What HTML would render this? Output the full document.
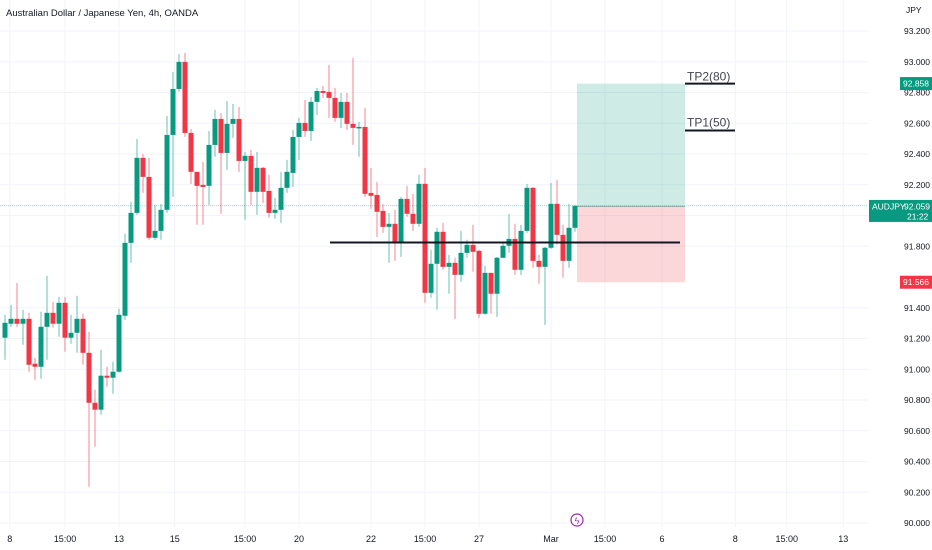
<!DOCTYPE html>
<html><head><meta charset="utf-8">
<style>
body{margin:0;background:#fff;font-family:"Liberation Sans",sans-serif;}
svg{display:block}
text{font-family:"Liberation Sans",sans-serif;}
</style></head>
<body>
<svg id="chart" width="932" height="550" xmlns="http://www.w3.org/2000/svg">
<rect x="0" y="0" width="932" height="550" fill="#ffffff"/>
<g id="grid"></g>
<g id="drawings-under"></g>
<g id="candles"></g>
<g id="drawings"></g>
<g id="axis"></g>
<g id="taxis"></g>
<text x="6" y="16" font-size="9.5" fill="#131722">Australian Dollar / Japanese Yen, 4h, OANDA</text>
</svg>
<script>
const opens=[91.205,91.296,91.328,91.296,91.328,91.036,91.016,91.276,91.367,91.296,91.432,91.205,91.237,91.328,91.107,90.782,90.737,90.958,90.945,90.984,91.348,91.822,92.017,92.375,92.251,91.855,91.900,92.037,92.524,92.823,92.999,92.537,92.284,92.199,92.193,92.459,92.628,92.407,92.596,92.628,92.355,92.388,92.154,92.310,92.160,92.017,92.037,92.180,92.277,92.511,92.602,92.550,92.739,92.810,92.804,92.765,92.635,92.739,92.596,92.570,92.576,92.147,92.134,92.030,91.926,91.946,91.822,92.108,92.011,91.946,92.206,91.497,91.686,91.894,91.666,91.692,91.614,91.757,91.809,91.770,91.361,91.627,91.491,91.725,91.803,91.848,91.647,91.900,92.180,91.705,91.666,91.790,92.076,91.874,91.705,91.920];
const closes=[91.302,91.328,91.296,91.328,91.029,91.016,91.276,91.367,91.296,91.432,91.205,91.237,91.328,91.107,90.782,90.737,90.958,90.945,90.984,91.354,91.822,92.017,92.375,92.251,91.855,91.900,92.037,92.524,92.823,92.999,92.537,92.284,92.193,92.186,92.459,92.628,92.407,92.596,92.628,92.355,92.388,92.154,92.310,92.154,92.017,92.037,92.180,92.284,92.511,92.602,92.550,92.739,92.810,92.797,92.765,92.635,92.739,92.596,92.570,92.576,92.141,92.128,92.024,91.926,91.946,91.822,92.108,92.011,91.946,92.206,91.497,91.686,91.894,91.666,91.692,91.614,91.757,91.809,91.764,91.361,91.627,91.491,91.725,91.803,91.848,91.647,91.900,92.180,91.705,91.666,91.790,92.076,91.874,91.705,91.920,92.063];
const highs=[91.354,91.419,91.562,91.387,91.367,91.075,91.374,91.608,91.439,91.471,91.471,91.354,91.478,91.361,91.244,90.867,91.127,91.016,91.049,91.393,91.881,92.089,92.498,92.400,92.375,92.069,92.076,92.648,92.934,93.050,93.057,92.563,92.284,92.349,92.550,92.687,92.667,92.745,92.726,92.706,92.414,92.427,92.414,92.316,92.264,92.115,92.284,92.362,92.557,92.635,92.752,92.771,92.830,92.843,92.979,92.830,92.797,92.797,93.025,92.609,92.700,92.310,92.219,92.076,92.017,92.037,92.121,92.193,92.141,92.264,92.310,91.777,91.920,91.952,91.744,91.725,91.900,91.842,91.939,91.777,91.673,91.627,91.731,91.822,92.011,91.946,91.939,92.206,92.186,91.744,91.796,92.212,92.232,91.939,92.076,92.069];
const lows=[91.062,91.276,91.276,91.159,90.984,90.932,90.938,91.062,91.270,91.211,91.114,91.166,91.107,91.029,90.236,90.496,90.704,90.886,90.841,90.977,91.322,91.692,92.004,92.147,91.842,91.842,91.842,92.017,92.121,92.804,92.511,92.206,91.939,91.939,92.069,92.381,92.011,92.297,92.505,92.284,91.972,92.069,92.004,92.082,91.985,91.978,91.952,92.147,92.186,92.362,92.511,92.485,92.654,92.765,92.635,92.609,92.570,92.557,92.459,92.381,92.121,92.043,91.861,91.887,91.692,91.705,91.731,91.991,91.900,91.926,91.432,91.465,91.387,91.647,91.491,91.328,91.569,91.725,91.634,91.335,91.354,91.361,91.341,91.725,91.757,91.614,91.614,91.887,91.660,91.556,91.289,91.783,91.809,91.595,91.660,91.894];
const priceTicks=[93.2,93.0,92.8,92.6,92.4,92.2,92.0,91.8,91.4,91.2,91.0,90.8,90.6,90.4,90.2,90.0];
const timeLabels=["8","15:00","13","15","15:00","20","22","15:00","27","Mar","15:00","6","8","15:00","13"];
const timeIdx=[0.8,10,19,28.3,40,49,61,70,79,91,100,109.5,121.7,130.3,139.7];
const tpPrice=92.858, entryPrice=92.059, stopPrice=91.566, supportPrice=91.824, tp1Price=92.553;

const NS="http://www.w3.org/2000/svg";
const y=p=>31+(93.2-p)*153.75;
const x=i=>5+6*i;
function mk(tag,attrs,parent,txt){const e=document.createElementNS(NS,tag);for(const k in attrs)e.setAttribute(k,attrs[k]);if(txt!==undefined)e.textContent=txt;parent.appendChild(e);return e;}
const grid=document.getElementById('grid'),cg=document.getElementById('candles'),ax=document.getElementById('axis'),tx=document.getElementById('taxis'),dr=document.getElementById('drawings'),du=document.getElementById('drawings-under');

priceTicks.forEach(p=>{
  const l=mk('line',{x1:0,x2:868,y1:y(p),y2:y(p),stroke:'#f0f3fa','stroke-width':1},grid);
  
  
  const t=mk('text',{x:904,y:y(p)+3,'font-size':8.5,fill:'#131722'},ax,p.toFixed(3));
  
  
});
timeLabels.forEach((s,k)=>{
  const xx=x(timeIdx[k]);
  const l=mk('line',{x1:xx,x2:xx,y1:0,y2:527,stroke:'#f0f3fa','stroke-width':1},grid);
  
  
  const t=mk('text',{x:xx,y:542,'font-size':9,fill:'#131722','text-anchor':'middle'},tx,s);
  
  
});
let t0=mk('text',{x:906,y:13,'font-size':8.5,fill:'#131722'},ax,'JPY');



// position tool
let r1=mk('rect',{x:577,y:y(tpPrice),width:108,height:y(entryPrice)-y(tpPrice),fill:'rgba(8,153,129,0.2)'},du);


let r2=mk('rect',{x:577,y:y(entryPrice),width:108,height:y(stopPrice)-y(entryPrice),fill:'rgba(242,54,69,0.2)'},du);


let el=mk('line',{x1:577,x2:685,y1:y(entryPrice),y2:y(entryPrice),stroke:'#9aa3a6','stroke-width':1},du);


let cl=mk('line',{x1:0,x2:868,y1:y(closes[closes.length-1]),y2:y(closes[closes.length-1]),stroke:'#089981','stroke-width':0.6,'stroke-dasharray':'1 1','opacity':0.6},du);



opens.forEach((o,i)=>{
  const c=closes[i],up=c>=o,col=up?'#089981':'#f23645';
  const w=mk('line',{x1:x(i),x2:x(i),y1:y(highs[i]),y2:y(lows[i]),stroke:col,'stroke-width':1,opacity:0.6},cg);
  
  
  const top=y(Math.max(o,c)),h=Math.max(1.5,Math.abs(y(o)-y(c)));
  const b=mk('rect',{x:x(i)-2.5,y:top,width:5,height:h,fill:col},cg);
  
  
});

let sl=mk('line',{x1:330,x2:680,y1:y(supportPrice),y2:y(supportPrice),stroke:'#131722','stroke-width':2},dr);


let tp2=mk('line',{x1:685,x2:735,y1:y(tpPrice),y2:y(tpPrice),stroke:'#131722','stroke-width':2},dr);


let tp2t=mk('text',{x:687,y:y(tpPrice)-3,'font-size':12,fill:'#434651'},dr,'TP2(80)');


let tp1=mk('line',{x1:685,x2:735,y1:y(tp1Price),y2:y(tp1Price),stroke:'#131722','stroke-width':2},dr);


let tp1t=mk('text',{x:687,y:y(tp1Price)-4,'font-size':12,fill:'#434651'},dr,'TP1(50)');



function tag(p,bg,txt,name,x0,w){
  const r=mk('rect',{x:x0,y:y(p)-6.5,width:w,height:13,fill:bg},ax);
  
  
  const t=mk('text',{x:x0+w/2,y:y(p)+3,'font-size':8.5,fill:'#fff','text-anchor':'middle'},ax,txt);
  
  
}
tag(tpPrice,'#089981','92.858','target-price-tag',900,32);
tag(92.053,'#787b86','92.053','bid-price-tag',900,32);
tag(stopPrice,'#f23645','91.566','stop-price-tag',900,32);
let ar=mk('rect',{x:869,y:y(entryPrice)-6.5,width:63,height:22,fill:'#089981'},ax);


let at=mk('text',{x:872,y:y(entryPrice)+3,'font-size':8.5,fill:'#fff'},ax,'AUDJPY');


let ap=mk('text',{x:904,y:y(entryPrice)+3,'font-size':8.5,fill:'#fff'},ax,'92.059');


let ac=mk('text',{x:907,y:y(entryPrice)+13,'font-size':8.5,fill:'#fff'},ax,'21:22');



let ic=mk('circle',{cx:577,cy:520,r:6,fill:'#fff',stroke:'#9c27b0','stroke-width':1.2},tx);


let it=mk('text',{x:577,y:524,'font-size':9,fill:'#9c27b0','text-anchor':'middle'},tx,'ϟ');


</script>
</body></html>
